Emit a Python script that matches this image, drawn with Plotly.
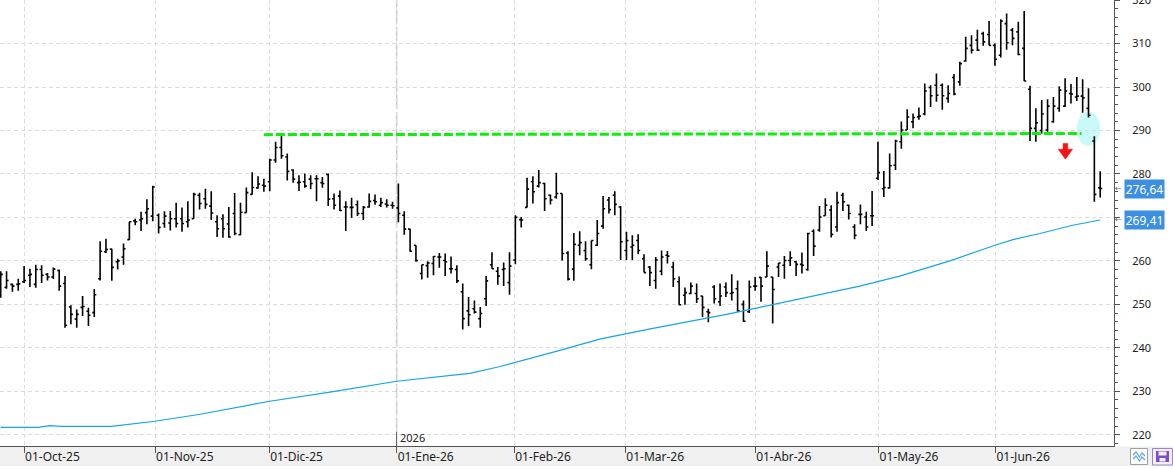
import plotly.graph_objects as go

# ---------------- data ----------------
opens = [256.0,253.9,254.6,254.6,255.2,256.7,254.6,258.0,256.9,256.3,257.8,254.8,249.4,246.6,249.3,248.4,248.1,255.9,262.1,262.7,
         259.8,260.9,264.9,269.2,269.4,271.1,270.3,270.5,268.6,268.7,269.7,269.7,269.0,269.7,275.1,274.3,272.6,269.0,269.7,268.5,
         270.9,266.0,271.1,275.3,276.8,277.4,278.2,283.2,286.1,283.9,280.9,278.0,278.2,278.8,278.9,278.0,279.9,274.3,274.9,272.4,
         272.3,272.9,270.9,272.4,273.9,272.8,273.1,272.8,272.2,270.5,267.3,263.6,257.1,258.9,259.4,260.9,260.1,258.2,258.0,252.9,
         248.5,249.0,246.7,251.3,259.1,257.6,258.0,255.0,260.2,269.5,272.3,278.2,277.2,277.8,275.1,274.7,275.5,261.8,258.1,263.6,
         262.4,259.1,263.6,268.0,274.0,275.1,272.4,262.4,263.2,264.7,260.5,258.6,255.5,257.6,261.3,258.6,255.2,252.1,252.5,252.5,
         251.9,248.3,254.0,250.6,254.0,252.5,253.6,250.0,248.3,254.2,256.2,256.3,256.3,258.6,259.0,260.1,259.8,259.2,258.0,266.8,
         267.1,270.4,271.7,267.8,275.1,272.8,267.8,270.7,270.1,270.4,279.0,276.6,276.8,282.0,287.4,290.1,292.0,293.1,293.8,299.9,
         300.4,300.4,297.4,302.2,301.2,306.0,309.6,310.8,312.3,312.1,309.6,307.3,314.6,313.1,312.7,308.9,299.5,290.5,290.0,290.1,
         292.0,295.1,295.6,298.5,297.7,297.9,295.1,287.6,276.8]
highs = [257.6,257.6,254.8,255.9,258.8,258.2,259.1,259.0,257.2,258.5,258.0,256.5,249.8,248.8,251.9,249.2,253.5,264.5,265.1,262.8,
         260.5,264.0,269.0,269.7,271.3,274.2,277.3,270.9,271.4,271.5,273.4,272.3,273.7,275.7,275.7,276.6,276.0,270.5,270.7,272.4,
         275.6,273.4,276.9,280.4,279.5,278.9,283.5,287.4,288.8,284.7,281.1,279.7,280.1,279.7,279.7,279.3,280.1,275.5,276.2,273.7,
         274.5,273.9,272.6,275.5,275.3,274.5,274.2,273.6,277.8,271.4,267.4,263.6,259.1,259.9,261.1,261.8,261.7,261.0,259.0,254.8,
         251.7,250.9,249.4,256.5,262.0,258.6,259.6,262.0,270.5,270.1,279.1,279.5,280.9,278.0,275.3,280.3,275.5,262.2,266.4,266.8,
         264.5,264.7,269.4,274.9,274.7,276.0,272.6,266.7,265.9,266.1,261.5,258.8,260.9,262.4,262.3,259.8,256.4,253.9,255.0,254.8,
         251.9,249.0,254.4,254.8,255.0,256.9,255.5,250.9,255.5,256.3,256.3,262.2,256.3,259.5,261.1,262.2,260.0,261.9,266.5,267.3,
         272.6,274.4,272.8,275.9,275.7,273.0,268.4,273.0,271.3,276.1,287.4,280.7,284.7,287.9,292.1,294.9,293.9,295.3,300.8,300.4,
         303.1,300.8,300.4,303.0,305.8,311.6,311.9,313.2,312.7,315.2,310.0,315.6,316.9,313.6,315.0,317.5,300.3,295.1,297.0,297.2,
         297.7,300.2,302.0,300.7,302.3,301.8,299.7,288.7,280.6]
lows = [251.5,253.6,252.9,253.1,254.9,254.0,253.8,254.9,255.5,255.8,253.1,244.6,245.4,244.6,247.3,245.0,247.1,255.5,261.8,255.4,
        258.0,259.1,264.8,268.2,266.9,268.4,269.1,266.3,267.6,267.0,267.7,266.7,267.7,269.7,271.8,272.0,269.4,265.5,265.3,265.3,
        265.9,265.9,271.1,275.3,276.6,275.9,276.0,282.6,283.5,278.5,278.0,276.1,276.8,276.5,273.7,276.8,272.6,271.8,271.5,266.9,
        269.9,270.3,269.4,272.2,272.9,272.4,272.3,272.0,268.9,266.0,262.1,259.8,255.7,256.1,256.7,258.4,256.5,257.1,254.9,244.2,
        245.0,247.9,244.6,249.6,258.2,254.5,254.2,252.2,259.2,267.7,272.3,273.2,276.9,271.5,273.0,274.3,260.1,255.5,255.4,261.3,
        260.0,258.1,263.4,267.4,270.9,270.5,260.2,260.2,260.2,261.5,257.3,254.2,253.6,256.7,259.4,254.0,249.8,249.9,252.3,250.3,
        247.1,245.9,250.2,249.6,251.7,250.9,248.3,246.0,248.0,253.1,250.6,256.3,245.6,256.3,255.9,258.8,256.5,257.1,257.7,261.1,
        266.7,270.4,265.4,266.7,271.5,269.5,265.0,268.4,266.9,268.0,278.6,274.7,276.6,280.9,285.8,290.1,290.5,292.5,293.5,295.4,
        296.6,294.8,296.4,298.1,300.3,305.8,307.7,308.3,309.5,309.6,304.9,306.8,308.6,309.6,307.3,301.4,287.6,287.4,289.3,289.7,
        291.8,294.3,295.4,296.2,296.8,294.1,293.0,273.6,274.6]
closes = [256.9,255.5,254.2,254.7,255.5,256.9,258.0,256.7,256.3,258.1,254.2,245.2,247.7,247.7,249.5,247.5,252.2,262.2,262.6,258.5,
          260.0,262.8,269.0,269.0,269.7,272.0,277.0,267.7,270.3,269.7,268.6,268.6,269.4,275.3,273.2,273.0,271.0,267.4,267.4,265.5,
          266.3,271.2,275.7,276.9,277.7,277.2,283.2,286.1,284.2,280.6,278.8,278.1,277.2,277.8,278.9,277.8,274.2,272.8,271.6,272.4,
          272.3,270.9,272.3,273.7,273.6,273.4,272.8,272.7,270.9,267.3,262.2,260.1,259.1,259.5,261.0,260.9,259.8,258.2,255.4,246.7,
          247.6,248.2,247.9,255.4,258.2,256.5,258.2,258.8,270.0,269.4,276.5,275.9,278.0,274.3,274.0,275.5,261.7,255.8,263.8,264.2,
          260.5,264.7,266.3,272.0,271.8,273.0,264.4,264.7,263.6,262.4,257.3,257.3,260.2,260.9,261.1,255.9,249.9,252.7,254.2,251.3,
          249.3,248.1,251.3,251.9,252.7,252.7,248.5,246.1,254.0,254.2,254.2,258.8,253.4,259.5,260.1,260.7,259.2,259.0,266.3,263.4,
          270.1,272.8,266.1,273.4,273.6,270.9,265.9,270.7,267.8,270.4,280.3,276.9,281.9,287.6,290.1,293.1,293.0,293.3,299.1,298.0,
          298.1,298.0,298.5,298.4,305.4,308.9,308.5,308.5,310.4,309.6,306.4,315.2,310.2,311.2,307.5,301.4,290.5,291.8,293.8,295.6,
          295.6,299.3,299.1,298.4,297.9,297.5,293.5,275.3,276.64]
bar_index = list(range(len(closes)))

# 200-session moving average, read at sample bars
ma_index = [0, 6.4, 8.4, 10.3, 18.9, 21.4, 23.5, 26.4, 34.1, 46, 56.3, 67.7, 80.2, 85.4, 95.6, 102.4, 110.4, 118.3,
            124.1, 129.8, 135.4, 141.2, 146.9, 153.7, 162.3, 170, 173.1, 177.7, 183.3, 188]
ma_values = [221.7, 221.7, 222.1, 221.9, 221.9, 222.3, 222.6, 223.1, 224.7, 227.7, 229.8, 232.3, 234.1, 235.7, 239.4,
             242.0, 244.2, 246.2, 247.7, 249.3, 250.9, 252.6, 254.2, 256.5, 260.0, 263.6, 264.9, 266.3, 268.2, 269.41]

# month ticks (bar index positions) and labels
tick_pos = [4.0, 26.4, 45.9, 67.7, 87.8, 106.8, 129.0, 150.1, 170.1]
tick_text = ["01-Oct-25", "01-Nov-25", "01-Dic-25", "01-Ene-26", "01-Feb-26",
             "01-Mar-26", "01-Abr-26", "01-May-26", "01-Jun-26"]
year_pos = 67.7
year_text = "2026"

# price axis ticks (270 is hidden behind the moving-average value box)
price_ticks = [220, 230, 240, 250, 260, 270, 280, 290, 300, 310, 320]
price_labels = ["220", "230", "240", "250", "260", "", "280", "290", "300", "310", "320"]

# analyst drawings
support_x = [45.0, 184.8]
support_y = [289.05, 289.3]
ellipse_x = [184.0, 188.0]
ellipse_y = [286.5, 294.3]
arrow_x = 182.05
arrow_y = [287.0, 285.7, 283.4]   # stem top, neck, tip

last_close = closes[-1]
last_ma = ma_values[-1]

# ---------------- figure ----------------
PLOT_W = 1114.0
PLOT_H = 446.0

def px(xp):
    return xp / PLOT_W

def py(yp):
    return (PLOT_H - yp) / PLOT_H

fig = go.Figure()

fig.add_trace(go.Scatter(x=ma_index, y=ma_values, mode="lines",
                         line=dict(color="#14a6e6", width=1.2), hoverinfo="skip", showlegend=False))

fig.add_trace(go.Ohlc(x=bar_index, open=opens, high=highs, low=lows, close=closes,
                      increasing=dict(line=dict(color="#000000", width=1.6)),
                      decreasing=dict(line=dict(color="#000000", width=1.6)),
                      tickwidth=0.35, hoverinfo="skip", showlegend=False))

fig.add_trace(go.Scatter(x=support_x, y=support_y, mode="lines",
                         line=dict(color="#0cf00c", width=3, dash="9px,3px"),
                         hoverinfo="skip", showlegend=False))

shapes = []
# cyan ellipse
shapes.append(dict(type="circle", xref="x", yref="y", x0=ellipse_x[0], x1=ellipse_x[1],
                   y0=ellipse_y[0], y1=ellipse_y[1], fillcolor="#c8fafa", line=dict(width=0), layer="below"))
# red arrow
sw, hw = 0.4, 1.23
c = arrow_x
path = (f"M {c-sw},{arrow_y[0]} L {c+sw},{arrow_y[0]} L {c+sw},{arrow_y[1]} L {c+hw},{arrow_y[1]} "
        f"L {c},{arrow_y[2]} L {c-hw},{arrow_y[1]} L {c-sw},{arrow_y[1]} Z")
shapes.append(dict(type="path", xref="x", yref="y", path=path, fillcolor="#f41414",
                   line=dict(color="#f41414", width=0.5)))
# year separator
shapes.append(dict(type="line", xref="x", yref="paper", x0=year_pos, x1=year_pos, y0=py(432), y1=1,
                   line=dict(color="#c8c8c8", width=1.5, dash="14px,3px"), layer="below"))
shapes.append(dict(type="line", xref="x", yref="paper", x0=year_pos, x1=year_pos, y0=0, y1=py(432),
                   line=dict(color="#555555", width=1)))
# bottom gray band
shapes.append(dict(type="rect", xref="paper", yref="paper", x0=-0.01, x1=px(1180), y0=py(466), y1=py(446.5),
                   fillcolor="#f0f0f0", line=dict(width=0), layer="below"))
# icons
shapes.append(dict(type="rect", xref="paper", yref="paper", x0=px(1130.5), x1=px(1147.5), y0=py(464.5), y1=py(448.5),
                   fillcolor="#ffffff", line=dict(color="#a0a0a0", width=1)))
shapes.append(dict(type="path", xref="paper", yref="paper",
                   path=f"M {px(1133)},{py(455)} L {px(1136)},{py(452)} L {px(1139.5)},{py(457)} L {px(1142)},{py(453)} L {px(1145)},{py(456)}",
                   line=dict(color="#5aa6e8", width=1.2)))
shapes.append(dict(type="path", xref="paper", yref="paper",
                   path=f"M {px(1133)},{py(459)} L {px(1136)},{py(456)} L {px(1139.5)},{py(461)} L {px(1142)},{py(457)} L {px(1145)},{py(460)}",
                   line=dict(color="#5aa6e8", width=1.2)))
shapes.append(dict(type="rect", xref="paper", yref="paper", x0=px(1152.5), x1=px(1172.5), y0=py(465), y1=py(448.5),
                   fillcolor="#f3effa", line=dict(color="#9a86c8", width=1)))
shapes.append(dict(type="rect", xref="paper", yref="paper", x0=px(1156), x1=px(1169), y0=py(462), y1=py(451),
                   fillcolor="#7a4fc8", line=dict(width=0)))
shapes.append(dict(type="rect", xref="paper", yref="paper", x0=px(1158.5), x1=px(1166.5), y0=py(455.5), y1=py(451.5),
                   fillcolor="#f3effa", line=dict(width=0)))
shapes.append(dict(type="rect", xref="paper", yref="paper", x0=px(1159.5), x1=px(1165.5), y0=py(461.5), y1=py(458),
                   fillcolor="#f3effa", line=dict(width=0)))

annotations = []
annotations.append(dict(x=year_pos, y=py(437), xref="x", yref="paper", text=year_text, showarrow=False,
                        xanchor="left", yanchor="middle", xshift=1,
                        font=dict(family="Noto Sans", size=11, color="#222222")))
for val, txt in [(last_close, "276,64"), (last_ma, "269,41")]:
    annotations.append(dict(x=px(1124), y=val, xref="paper", yref="y", text=txt, showarrow=False,
                            xanchor="left", yanchor="middle", bgcolor="#3d8fe2", width=39, height=18,
                            borderpad=0, font=dict(family="Noto Sans", size=12, color="#ffffff")))
    annotations.append(dict(x=px(1118.3), y=val, xref="paper", yref="y", text="←", showarrow=False,
                            xanchor="center", yanchor="middle",
                            font=dict(family="DejaVu Sans", size=8, color="#666666")))

fig.update_layout(
    width=1173, height=469,
    margin=dict(l=0, r=1173 - PLOT_W, t=0, b=469 - PLOT_H, autoexpand=False),
    paper_bgcolor="#ffffff", plot_bgcolor="#ffffff",
    shapes=shapes, annotations=annotations,
    showlegend=False, hovermode=False,
    font=dict(family="Noto Sans", size=12, color="#222222"),
)
fig.update_xaxes(
    range=[-0.12, 190.36], rangeslider=dict(visible=False),
    tickmode="array", tickvals=tick_pos, ticktext=tick_text,
    ticks="outside", ticklen=6, tickcolor="#555555", tickwidth=1,
    ticklabelposition="outside right",
    tickfont=dict(family="Noto Sans", size=12, color="#222222"),
    showgrid=True, gridcolor="#dcdcdc", griddash="4px,3px", gridwidth=1,
    showline=True, linecolor="#555555", linewidth=1, zeroline=False, fixedrange=True,
)
fig.update_yaxes(
    side="right", range=[217.4, 320.03],
    tickmode="array", tickvals=price_ticks, ticktext=price_labels,
    ticks="outside", ticklen=5, tickcolor="#555555", tickwidth=1,
    minor=dict(tickmode="linear", tick0=220, dtick=2, ticks="outside", ticklen=3, tickcolor="#555555", showgrid=False),
    ticklabelstandoff=10, ticklabeloverflow="allow",
    tickfont=dict(family="Noto Sans", size=11, color="#222222"),
    showgrid=True, gridcolor="#dcdcdc", griddash="4px,3px", gridwidth=1,
    showline=True, linecolor="#555555", linewidth=1, zeroline=False, fixedrange=True,
)

fig.write_html("out.html")
